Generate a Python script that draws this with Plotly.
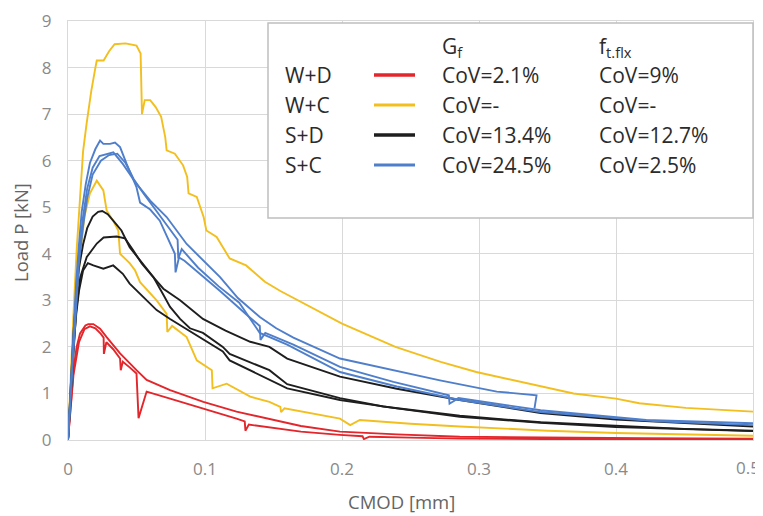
import plotly.graph_objects as go

# ---------------- data ----------------
x_ticks = [0, 0.1, 0.2, 0.3, 0.4, 0.5]
x_tick_labels = ["0", "0.1", "0.2", "0.3", "0.4", "0.5"]
y_ticks = [0, 1, 2, 3, 4, 5, 6, 7, 8, 9]

# W+D (red)
wd1_x = [0, 0.002, 0.004, 0.0063, 0.0088, 0.0127, 0.0148, 0.0185, 0.0234, 0.0282, 0.038, 0.05, 0.0574,
         0.0745, 0.0988, 0.123, 0.147, 0.17, 0.1985, 0.24, 0.286, 0.35, 0.42, 0.5]
wd1_y = [0, 0.8, 1.5, 2.0, 2.29, 2.46, 2.49, 2.49, 2.39, 2.21, 1.86, 1.5, 1.29,
         1.07, 0.82, 0.61, 0.45, 0.3, 0.18, 0.12, 0.07, 0.05, 0.04, 0.03]
wd2_x = [0, 0.002, 0.004, 0.008, 0.012, 0.016, 0.020, 0.024, 0.026, 0.0262, 0.028, 0.033, 0.038, 0.0385,
         0.040, 0.045, 0.050, 0.0515, 0.0574, 0.0745, 0.0988, 0.123, 0.129, 0.1295, 0.132, 0.147, 0.17,
         0.1985, 0.215, 0.216, 0.22, 0.25, 0.286, 0.35, 0.5]
wd2_y = [0, 0.7, 1.4, 2.1, 2.38, 2.44, 2.4, 2.28, 2.2, 1.85, 2.1, 1.95, 1.75, 1.5,
         1.68, 1.56, 1.43, 0.47, 1.04, 0.89, 0.68, 0.46, 0.4, 0.2, 0.33, 0.27, 0.18,
         0.11, 0.08, 0.02, 0.07, 0.05, 0.03, 0.02, 0.02]

# W+C (yellow)
wc1_x = [0, 0.002, 0.004, 0.0063, 0.0085, 0.011, 0.0136, 0.017, 0.020, 0.021, 0.026, 0.030, 0.034, 0.042,
         0.050, 0.053, 0.054, 0.056, 0.060, 0.064, 0.068, 0.071, 0.072, 0.078, 0.084, 0.087, 0.088, 0.094,
         0.099, 0.101, 0.1085, 0.118, 0.130, 0.1437, 0.155, 0.177, 0.2, 0.239, 0.272, 0.298, 0.339, 0.369,
         0.40, 0.417, 0.451, 0.5]
wc1_y = [0, 1.5, 2.7, 4.07, 5.2, 6.2, 6.8, 7.5, 8.0, 8.15, 8.15, 8.35, 8.5, 8.52,
         8.47, 8.3, 7.0, 7.3, 7.3, 7.15, 6.94, 6.5, 6.22, 6.15, 5.9, 5.65, 5.3, 5.22,
         4.79, 4.5, 4.36, 3.9, 3.75, 3.4, 3.2, 2.86, 2.5, 2.0, 1.68, 1.46, 1.2, 1.0,
         0.89, 0.79, 0.69, 0.61]
wc2_x = [0, 0.003, 0.006, 0.009, 0.012, 0.016, 0.021, 0.0258, 0.0282, 0.033, 0.0367, 0.038, 0.045, 0.049,
         0.0526, 0.0647, 0.072, 0.0725, 0.076, 0.0866, 0.094, 0.105, 0.1055, 0.1158, 0.133, 0.147, 0.155,
         0.1555, 0.158, 0.1985, 0.206, 0.213, 0.25, 0.286, 0.35, 0.4, 0.5]
wc2_y = [0, 1.5, 3.0, 4.0, 4.8, 5.3, 5.57, 5.36, 4.93, 4.71, 4.5, 4.0, 3.8, 3.64,
         3.39, 3.0, 2.71, 2.32, 2.45, 2.21, 1.71, 1.5, 1.11, 1.21, 0.93, 0.82, 0.71,
         0.6, 0.68, 0.46, 0.32, 0.43, 0.35, 0.29, 0.2, 0.15, 0.09]

# S+D (black)
sd1_x = [0, 0.002, 0.004, 0.006, 0.008, 0.011, 0.014, 0.018, 0.022, 0.025, 0.029, 0.033, 0.039, 0.045,
         0.0526, 0.0623, 0.07, 0.0745, 0.0818, 0.089, 0.0985, 0.113, 0.118, 0.13, 0.147, 0.16, 0.1985,
         0.23, 0.27, 0.286, 0.345, 0.4, 0.45, 0.5]
sd1_y = [0, 1.2, 2.3, 3.1, 3.7, 4.2, 4.55, 4.8, 4.9, 4.92, 4.85, 4.71, 4.5, 4.14,
         3.86, 3.5, 3.1, 2.86, 2.6, 2.4, 2.3, 2.0, 1.85, 1.7, 1.5, 1.2, 0.9,
         0.72, 0.57, 0.52, 0.38, 0.3, 0.24, 0.2]
sd2_x = [0, 0.002, 0.004, 0.006, 0.009, 0.0137, 0.021, 0.026, 0.0355, 0.0416, 0.0477, 0.0538, 0.061, 0.0696,
         0.0818, 0.0985, 0.115, 0.133, 0.147, 0.16, 0.1985, 0.24, 0.286, 0.345, 0.4, 0.45, 0.5]
sd2_y = [0, 1.0, 2.0, 2.8, 3.5, 3.93, 4.22, 4.35, 4.37, 4.33, 4.07, 3.79, 3.54, 3.25,
         3.0, 2.6, 2.35, 2.11, 2.0, 1.75, 1.36, 1.1, 0.86, 0.58, 0.44, 0.36, 0.29]
sd3_x = [0, 0.002, 0.004, 0.006, 0.008, 0.011, 0.0145, 0.0185, 0.0258, 0.033, 0.040, 0.045, 0.055, 0.0647,
         0.0745, 0.089, 0.1036, 0.113, 0.118, 0.147, 0.16, 0.1985, 0.24, 0.286, 0.345, 0.4, 0.5]
sd3_y = [0, 1.1, 2.0, 2.7, 3.2, 3.64, 3.8, 3.75, 3.68, 3.75, 3.57, 3.36, 3.07, 2.79,
         2.6, 2.33, 2.07, 1.9, 1.71, 1.29, 1.11, 0.86, 0.68, 0.5, 0.37, 0.28, 0.19]

# S+C (blue)
sc1_x = [0, 0.002, 0.004, 0.006, 0.008, 0.010, 0.013, 0.016, 0.020, 0.0234, 0.0258, 0.0307, 0.0343, 0.038,
         0.0428, 0.050, 0.0526, 0.060, 0.067, 0.0745, 0.078, 0.0785, 0.081, 0.085, 0.099, 0.111, 0.13, 0.14,
         0.1405, 0.144, 0.1645, 0.1985, 0.2375, 0.2715, 0.278, 0.2785, 0.285, 0.345, 0.422, 0.5]
sc1_y = [0, 1.2, 2.4, 3.4, 4.2, 4.9, 5.5, 5.95, 6.25, 6.43, 6.36, 6.36, 6.39, 6.29,
         5.93, 5.43, 5.1, 4.95, 4.71, 4.21, 4.0, 3.6, 3.92, 3.85, 3.5, 3.2, 2.7, 2.45,
         2.15, 2.3, 2.05, 1.57, 1.25, 1.0, 0.96, 0.78, 0.9, 0.64, 0.43, 0.36]
sc2_x = [0, 0.002, 0.004, 0.006, 0.008, 0.011, 0.014, 0.018, 0.023, 0.0282, 0.0331, 0.040, 0.05, 0.06,
         0.072, 0.0866, 0.099, 0.111, 0.124, 0.14, 0.152, 0.1645, 0.1985, 0.2375, 0.2715, 0.313, 0.342, 0.3405]
sc2_y = [0, 1.1, 2.2, 3.2, 4.0, 4.8, 5.4, 5.85, 6.1, 6.14, 6.18, 5.93, 5.5, 5.14,
         4.79, 4.21, 3.86, 3.5, 3.05, 2.64, 2.4, 2.2, 1.75, 1.5, 1.28, 1.04, 0.96, 0.68]
sc3_x = [0, 0.002, 0.004, 0.006, 0.008, 0.011, 0.014, 0.018, 0.024, 0.03, 0.036, 0.042, 0.048, 0.055,
         0.065, 0.075, 0.08, 0.0805, 0.083, 0.095, 0.11, 0.125, 0.14, 0.16, 0.1985, 0.24, 0.286, 0.345,
         0.43, 0.5]
sc3_y = [0, 1.0, 2.0, 3.0, 3.8, 4.6, 5.2, 5.7, 6.0, 6.12, 6.15, 5.95, 5.6, 5.3,
         4.9, 4.5, 4.3, 3.9, 4.1, 3.7, 3.3, 2.95, 2.3, 2.05, 1.46, 1.15, 0.86, 0.6,
         0.4, 0.32]

legend_labels = ["W+D", "W+C", "S+D", "S+C"]
gf_cov = ["CoV=2.1%", "CoV=-", "CoV=13.4%", "CoV=24.5%"]
ft_cov = ["CoV=9%", "CoV=-", "CoV=12.7%", "CoV=2.5%"]

# ---------------- styling ----------------
RED, YELLOW, BLACK, BLUE = "#E3262B", "#F2BF1F", "#1E1E1E", "#4F7FCB"
group_colors = [RED, YELLOW, BLACK, BLUE]
FONT = "Open Sans"
TICK_FONT = dict(size=17, color="#8A8A8A", family=FONT)

series = [
    (wd1_x, wd1_y, RED), (wd2_x, wd2_y, RED),
    (wc1_x, wc1_y, YELLOW), (wc2_x, wc2_y, YELLOW),
    (sd1_x, sd1_y, BLACK), (sd2_x, sd2_y, BLACK), (sd3_x, sd3_y, BLACK),
    (sc1_x, sc1_y, BLUE), (sc2_x, sc2_y, BLUE), (sc3_x, sc3_y, BLUE),
]

fig = go.Figure()
for xs, ys, col in series:
    fig.add_trace(go.Scatter(x=xs, y=ys, mode="lines", line=dict(color=col, width=1.9),
                             showlegend=False, hoverinfo="skip"))

# the page body adds an 8px offset, so the figure is sized to fit the window
OFF = 8
W, H = 763 - OFF, 516 - OFF
ML, MR, MT, MB = 68 - OFF, 10, 21 - OFF, 76
PW, PH = W - ML - MR, H - MT - MB


def px2x(px):  # page pixel -> paper x
    return (px - OFF - ML) / PW


def py2y(py):  # page pixel -> paper y
    return (H - MB - (py - OFF)) / PH


fig.update_layout(
    width=W, height=H,
    margin=dict(l=ML, r=MR, t=MT, b=MB),
    paper_bgcolor="white", plot_bgcolor="white",
    font=dict(family=FONT),
    xaxis=dict(range=[0, 0.5], tickvals=x_ticks[:-1], ticktext=x_tick_labels[:-1], automargin=False,
               showgrid=True, gridcolor="#D9D9D9", gridwidth=1, zeroline=False,
               showline=True, linecolor="#D9D9D9", mirror=True,
               ticks="outside", ticklen=14, tickcolor="rgba(0,0,0,0)",
               tickfont=TICK_FONT),
    yaxis=dict(range=[0, 9], tickvals=y_ticks, automargin=False,
               showgrid=True, gridcolor="#D9D9D9", gridwidth=1, zeroline=False,
               showline=True, linecolor="#D9D9D9", mirror=True,
               ticks="outside", ticklen=12, tickcolor="rgba(0,0,0,0)",
               tickfont=TICK_FONT),
)

# last x tick label sits at the right edge of the window; keep it fully visible
fig.add_annotation(text=x_tick_labels[-1], xref="paper", yref="paper", x=px2x(762), y=py2y(467),
                   xanchor="right", yanchor="middle", showarrow=False, font=TICK_FONT)

# axis titles
fig.add_annotation(text="CMOD [mm]", xref="paper", yref="paper", x=px2x(401), y=py2y(501),
                   xanchor="center", yanchor="middle",
                   showarrow=False, font=dict(size=18.5, color="#646464", family=FONT))
fig.add_annotation(text="Load P [kN]", xref="paper", yref="paper", x=px2x(20), y=py2y(232),
                   xanchor="center", yanchor="middle",
                   showarrow=False, textangle=-90, font=dict(size=18.5, color="#646464", family=FONT))

# custom legend table
fig.add_shape(type="rect", xref="paper", yref="paper", x0=px2x(268), x1=px2x(753),
              y0=py2y(218), y1=py2y(23), fillcolor="white",
              line=dict(color="#BFBFBF", width=1.5), layer="above")
lfont = dict(size=21, color="#2B2B2B", family=FONT)
fig.add_annotation(text="G<sub>f</sub>", xref="paper", yref="paper", x=px2x(440), y=py2y(47),
                   xanchor="left", yanchor="middle", showarrow=False, font=lfont)
fig.add_annotation(text="f<sub>t.flx</sub>", xref="paper", yref="paper", x=px2x(597), y=py2y(47),
                   xanchor="left", yanchor="middle", showarrow=False, font=lfont)
row_py = [75, 105, 135, 165]
sample_w = [3.5, 3, 3.5, 3]
for i, lab in enumerate(legend_labels):
    yy = py2y(row_py[i])
    fig.add_annotation(text=lab, xref="paper", yref="paper", x=px2x(283), y=yy,
                       xanchor="left", yanchor="middle", showarrow=False, font=lfont)
    fig.add_annotation(text=gf_cov[i], xref="paper", yref="paper", x=px2x(440), y=yy,
                       xanchor="left", yanchor="middle", showarrow=False, font=lfont)
    fig.add_annotation(text=ft_cov[i], xref="paper", yref="paper", x=px2x(597), y=yy,
                       xanchor="left", yanchor="middle", showarrow=False, font=lfont)
    fig.add_shape(type="line", xref="paper", yref="paper", x0=px2x(374), x1=px2x(415),
                  y0=yy, y1=yy, line=dict(color=group_colors[i], width=sample_w[i]), layer="above")

fig.write_html("out.html")
